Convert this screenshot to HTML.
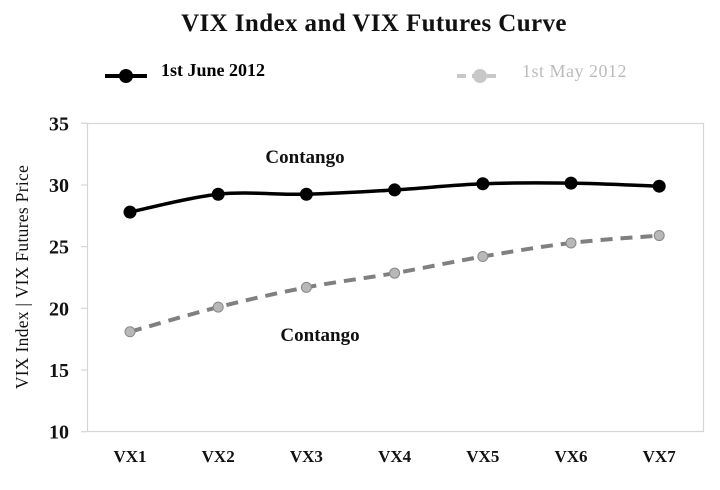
<!DOCTYPE html>
<html><head><meta charset="utf-8">
<style>
body{margin:0;background:#fff;}
svg text{font-family:"Liberation Serif",serif;}
</style></head>
<body>
<svg width="720" height="485" viewBox="0 0 720 485" id="chart">
<text x="374" y="31" text-anchor="middle" font-size="25" font-weight="bold" letter-spacing="0.4" fill="#111">VIX Index and VIX Futures Curve</text>
<g>
<line x1="105" y1="76" x2="147" y2="76" stroke="#000" stroke-width="4"/>
<circle cx="126" cy="76" r="7" fill="#000"/>
<text x="161" y="76" font-size="18" font-weight="bold" fill="#000">1st June 2012</text>
</g>
<g>
<line x1="457" y1="76" x2="502" y2="76" stroke="#c8c8c8" stroke-width="4" stroke-dasharray="9,6"/>
<circle cx="480" cy="76" r="7" fill="#c8c8c8"/>
<text x="522" y="77" font-size="18" letter-spacing="0.5" fill="#bbb">1st May 2012</text>
</g>
<rect x="87.5" y="123.5" width="616" height="308" fill="none" stroke="#d6d6d6" stroke-width="1.2"/>
<text transform="translate(28,277) rotate(-90)" text-anchor="middle" font-size="17.5" letter-spacing="0.3" fill="#111">VIX Index | VIX Futures Price</text>
<g id="yaxis"></g><g id="xaxis"></g><g id="series"></g>
<text x="305" y="163" text-anchor="middle" font-size="19" font-weight="bold" fill="#111">Contango</text>
<text x="320" y="341" text-anchor="middle" font-size="19" font-weight="bold" fill="#111">Contango</text>
</svg>
<script>
const categories=["VX1","VX2","VX3","VX4","VX5","VX6","VX7"];
const june=[27.8,29.25,29.25,29.6,30.1,30.15,29.9];
const may=[18.1,20.1,21.7,22.85,24.2,25.3,25.9];
const yTicks=[10,15,20,25,30,35];
const NS="http://www.w3.org/2000/svg";
const X0=130,DX=88.2,YT=123.3,YB=431.7,YMIN=10,YMAX=35;
const xs=i=>X0+i*DX;
const ys=v=>YB-(v-YMIN)/(YMAX-YMIN)*(YB-YT);
function mk(t,a,p){const e=document.createElementNS(NS,t);for(const k in a)e.setAttribute(k,a[k]);p.appendChild(e);return e;}
const ya=document.getElementById('yaxis');
yTicks.forEach(v=>{
 const l=mk('line',{x1:81,x2:87.5,y1:ys(v),y2:ys(v),stroke:'#d6d6d6','stroke-width':1.2},ya);
 
 
 const t=mk('text',{x:69,y:ys(v)+7,'text-anchor':'end','font-size':20,'font-weight':'bold',fill:'#111'},ya);
 t.textContent=v;
 
 
});
const xa=document.getElementById('xaxis');
categories.forEach((c,i)=>{
 const t=mk('text',{x:xs(i),y:462,'text-anchor':'middle','font-size':17,'font-weight':'bold',fill:'#111'},xa);
 t.textContent=c;
 
 
});
function smooth(pts){
 let d=`M${pts[0][0]},${pts[0][1]}`;
 for(let i=0;i<pts.length-1;i++){
  const p0=pts[Math.max(0,i-1)],p1=pts[i],p2=pts[i+1],p3=pts[Math.min(pts.length-1,i+2)];
  const c1=[p1[0]+(p2[0]-p0[0])/6,p1[1]+(p2[1]-p0[1])/6];
  const c2=[p2[0]-(p3[0]-p1[0])/6,p2[1]-(p3[1]-p1[1])/6];
  d+=` C${c1[0]},${c1[1]} ${c2[0]},${c2[1]} ${p2[0]},${p2[1]}`;
 }
 return d;
}
const sg=document.getElementById('series');
const mp=may.map((v,i)=>[xs(i),ys(v)]);
const ml=mk('path',{d:smooth(mp),fill:'none',stroke:'#808080','stroke-width':4,'stroke-dasharray':'12,8'},sg);


mp.forEach(p=>{
 const c=mk('circle',{cx:p[0],cy:p[1],r:5,fill:'#b8b8b8',stroke:'#888','stroke-width':1},sg);
 
 
});
const jp=june.map((v,i)=>[xs(i),ys(v)]);
const jl=mk('path',{d:smooth(jp),fill:'none',stroke:'#000','stroke-width':3.5},sg);


jp.forEach(p=>{
 const c=mk('circle',{cx:p[0],cy:p[1],r:6.5,fill:'#000'},sg);
 
 
});
</script>
</body></html>
